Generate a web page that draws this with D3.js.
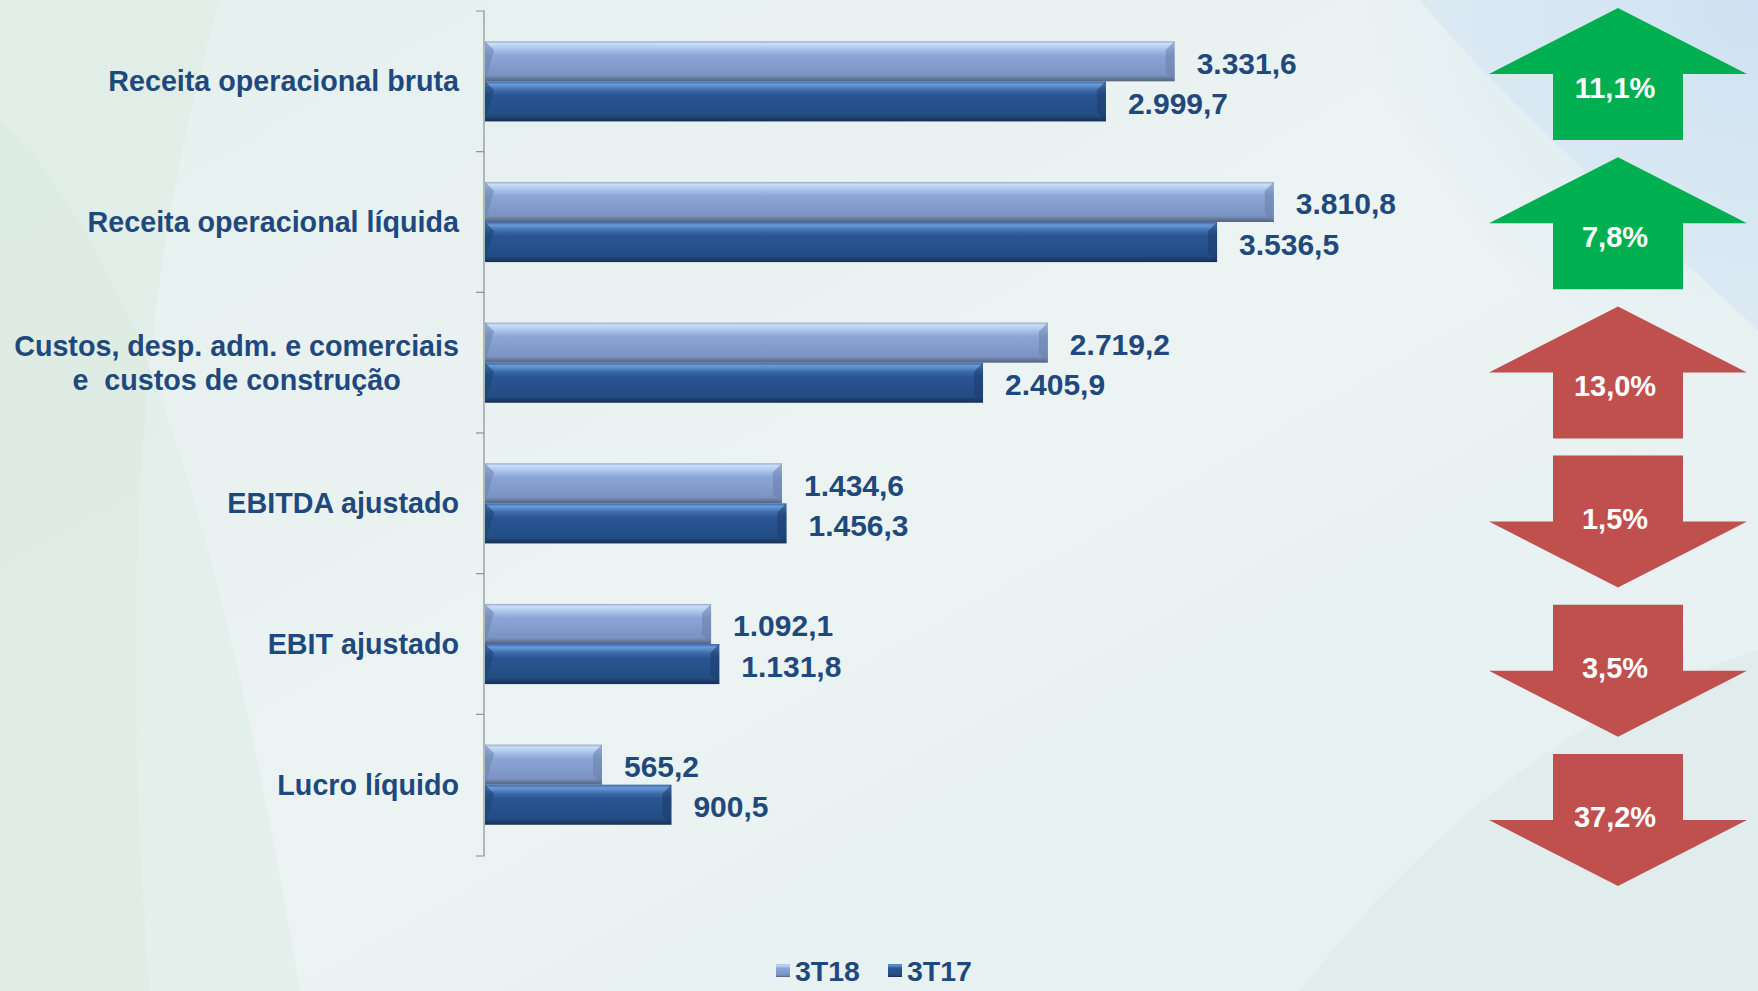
<html>
<head>
<meta charset="utf-8">
<script src="https://d3js.org/d3.v7.min.js"></script>
<style>
  body { margin: 0; background: #e8f1f1; }
  svg text { font-family: 'Liberation Sans', Arial, sans-serif; font-weight: bold; }
</style>
</head>
<body>
<script>

var categories = ['Receita operacional bruta', 'Receita operacional líquida',
                  'Custos, desp. adm. e comerciais|e  custos de construção',
                  'EBITDA ajustado', 'EBIT ajustado', 'Lucro líquido'];
var series = ['3T18', '3T17'];
var values3T18 = [3331.6, 3810.8, 2719.2, 1434.6, 1092.1, 565.2];
var values3T17 = [2999.7, 3536.5, 2405.9, 1456.3, 1131.8, 900.5];
var changes = ['11,1%', '7,8%', '13,0%', '1,5%', '3,5%', '37,2%'];
var direction = ['up', 'up', 'up', 'down', 'down', 'down'];
var changeColor = ['#00b050', '#00b050', '#c0504d', '#c0504d', '#c0504d', '#c0504d'];

var W = 1758, H = 991;
var textColor = '#1f497d';

var fmt = function(v) {
    // 3331.6 -> 3.331,6
    var s = v.toFixed(1).split('.');
    return s[0].replace(/\B(?=(\d{3})+(?!\d))/g, '.') + ',' + s[1];
};

var svg = d3.select('body').append('svg')
    .attr('width', W)
    .attr('height', H);

var defs = svg.append('defs');

// background
var bg = defs.append('linearGradient').attr('id', 'bg')
    .attr('x1', 0).attr('y1', 0).attr('x2', 1).attr('y2', 1);
bg.append('stop').attr('offset', 0).attr('stop-color', '#e5f0ee');
bg.append('stop').attr('offset', 0.5).attr('stop-color', '#ebf3f3');
bg.append('stop').attr('offset', 1).attr('stop-color', '#e6f0f0');
svg.append('rect').attr('width', W).attr('height', H).attr('fill', 'url(#bg)');

var blue = defs.append('radialGradient').attr('id', 'blueglow')
    .attr('cx', 1).attr('cy', 0).attr('r', 0.6);
blue.append('stop').attr('offset', 0).attr('stop-color', '#c9def4').attr('stop-opacity', 1);
blue.append('stop').attr('offset', 1).attr('stop-color', '#dbe9f4').attr('stop-opacity', 0);
svg.append('rect').attr('x', 1100).attr('width', 658).attr('height', 600).attr('fill', 'url(#blueglow)');

var swooshes = [
    {d: 'M0,0 L220,0 C160,200 110,500 150,991 L0,991 Z', c: '#dcebdd', o: 0.45},
    {d: 'M0,120 C140,260 220,520 300,991 L0,991 Z', c: '#d3e6d6', o: 0.25},
    {d: 'M1300,991 C1450,800 1600,700 1758,650 L1758,991 Z', c: '#dce8ea', o: 0.5},
    {d: 'M1420,0 L1758,0 L1758,330 C1640,220 1520,120 1420,0 Z', c: '#d2e4f2', o: 0.6}
];
svg.selectAll('path.swoosh').data(swooshes).enter().append('path')
    .attr('class', 'swoosh')
    .attr('d', function(d) { return d.d; })
    .attr('fill', function(d) { return d.c; })
    .attr('opacity', function(d) { return d.o; });

// bar gradients
var barGrad = function(id, stops) {
    var g = defs.append('linearGradient').attr('id', id)
        .attr('x1', 0).attr('y1', 0).attr('x2', 0).attr('y2', 1);
    stops.forEach(function(s) {
        g.append('stop').attr('offset', s[0]).attr('stop-color', s[1]);
    });
};
barGrad('g3T18', [[0, '#9aa9c2'], [0.06, '#c9defa'], [0.2, '#a9c2ea'], [0.35, '#8ba5d6'],
                  [0.85, '#7b93c2'], [0.95, '#60718f'], [1, '#55647e']]);
barGrad('g3T17', [[0, '#3c6aa8'], [0.08, '#6a9ad8'], [0.22, '#3e6cab'], [0.35, '#2a5592'],
                  [0.85, '#234c84'], [0.95, '#1a3863'], [1, '#152e52']]);

var x = d3.scaleLinear().domain([0, 4000]).range([485, 485 + 828]);
var y = d3.scaleBand().domain(categories).range([11, 855])
    .paddingInner(0.43).paddingOuter(0.215);
var ySub = d3.scaleBand().domain(series).range([0, y.bandwidth()]);

var rows = categories.map(function(c, i) {
    return {cat: c, vals: [{s: '3T18', v: values3T18[i]}, {s: '3T17', v: values3T17[i]}]};
});

// axis line with separators between categories
var axisG = svg.append('g').attr('transform', 'translate(484,0)');
axisG.append('path')
    .attr('fill', 'none').attr('stroke', '#8a8f94').attr('stroke-width', 1.2)
    .attr('d', 'M-8,11 H0 V856 H-8');
axisG.selectAll('line.sep').data(categories.slice(1)).enter().append('line')
    .attr('class', 'sep')
    .attr('x1', -8).attr('x2', 0)
    .attr('y1', function(d) { return y(d) - y.step() * y.paddingInner() / 2; })
    .attr('y2', function(d) { return y(d) - y.step() * y.paddingInner() / 2; })
    .attr('stroke', '#8a8f94').attr('stroke-width', 1.2);

var groups = svg.selectAll('g.row').data(rows).enter().append('g')
    .attr('class', 'row')
    .attr('transform', function(d) { return 'translate(0,' + y(d.cat) + ')'; });

var bars = groups.selectAll('g.bar').data(function(d) { return d.vals; }).enter().append('g')
    .attr('class', 'bar');

bars.append('rect')
    .attr('x', x(0))
    .attr('y', function(d) { return ySub(d.s); })
    .attr('width', function(d) { return x(d.v) - x(0); })
    .attr('height', ySub.bandwidth())
    .attr('fill', function(d) { return 'url(#g' + d.s + ')'; });

// small bevel at the bar ends
bars.append('path')
    .attr('d', function(d) {
        var x0 = x(0), t = ySub(d.s), h = ySub.bandwidth(), b = 9;
        return 'M' + x0 + ',' + t + ' L' + (x0 + b) + ',' + (t + b) + ' L' + x0 + ',' + (t + h) + ' Z';
    })
    .attr('fill', function(d) { return d.s == '3T18' ? '#6e84ad' : '#1c4276'; })
    .attr('opacity', 0.6);
bars.append('path')
    .attr('d', function(d) {
        var x1 = x(d.v), t = ySub(d.s), h = ySub.bandwidth(), b = 9;
        return 'M' + x1 + ',' + t + ' L' + (x1 - b) + ',' + (t + b) + ' L' + (x1 - b) + ',' + (t + h - b) + ' L' + x1 + ',' + (t + h) + ' Z';
    })
    .attr('fill', function(d) { return d.s == '3T18' ? '#6a80a8' : '#1a3c6c'; })
    .attr('opacity', 0.55);

bars.append('text')
    .attr('x', function(d) { return x(d.v) + 22; })
    .attr('y', function(d) { return ySub(d.s) + ySub.bandwidth() / 2 + 2; })
    .attr('dominant-baseline', 'central')
    .attr('font-size', 30)
    .attr('fill', textColor)
    .text(function(d) { return fmt(d.v); });

// category labels
groups.each(function(d) {
    var lines = d.cat.split('|');
    var g = d3.select(this);
    var cy = y.bandwidth() / 2;
    if (lines.length == 1) {
        g.append('text')
            .attr('x', 459).attr('y', cy)
            .attr('text-anchor', 'end').attr('dominant-baseline', 'central')
            .attr('font-size', 28.7).attr('fill', textColor)
            .text(lines[0]);
    } else {
        var t1 = g.append('text')
            .attr('x', 459).attr('y', cy - 17)
            .attr('text-anchor', 'end').attr('dominant-baseline', 'central')
            .attr('font-size', 28.7).attr('fill', textColor)
            .text(lines[0]);
        var w1 = t1.node().getComputedTextLength();
        g.append('text')
            .attr('x', 459 - w1 / 2).attr('y', cy + 17)
            .attr('text-anchor', 'middle').attr('dominant-baseline', 'central')
            .attr('font-size', 28.7).attr('fill', textColor)
            .attr('xml:space', 'preserve')
            .text(lines[1]);
    }
});

// change arrows
var ay = d3.scalePoint().domain(categories).range([74, 820]);
var arrowPath = function(dir) {
    // arrow centred at 0,0, 258 wide and 132 tall
    var hw = 129, sw = 65;
    if (dir == 'up') {
        return 'M0,-66 L' + hw + ',0 L' + sw + ',0 L' + sw + ',66 L' + (-sw) + ',66 L' + (-sw) + ',0 L' + (-hw) + ',0 Z';
    }
    return 'M0,66 L' + hw + ',0 L' + sw + ',0 L' + sw + ',-66 L' + (-sw) + ',-66 L' + (-sw) + ',0 L' + (-hw) + ',0 Z';
};
var arrows = svg.selectAll('g.arrow').data(categories).enter().append('g')
    .attr('class', 'arrow')
    .attr('transform', function(d) { return 'translate(1618,' + ay(d) + ')'; });
arrows.append('path')
    .attr('d', function(d, i) { return arrowPath(direction[i]); })
    .attr('fill', function(d, i) { return changeColor[i]; });
arrows.append('text')
    .attr('x', -3)
    .attr('y', function(d, i) { return direction[i] == 'up' ? 14 : -3; })
    .attr('text-anchor', 'middle').attr('dominant-baseline', 'central')
    .attr('font-size', 29).attr('fill', '#ffffff')
    .text(function(d, i) { return changes[i]; });

// legend
var legend = svg.selectAll('g.legend').data(series).enter().append('g')
    .attr('class', 'legend')
    .attr('transform', function(d, i) { return 'translate(' + (776 + i * 112) + ',964)'; });
legend.append('rect')
    .attr('width', 14).attr('height', 13)
    .attr('fill', function(d) { return 'url(#g' + d + ')'; });
legend.append('text')
    .attr('x', 19).attr('y', 7)
    .attr('dominant-baseline', 'central')
    .attr('font-size', 28.5).attr('fill', textColor)
    .text(function(d) { return d; });

</script>
</body>
</html>
